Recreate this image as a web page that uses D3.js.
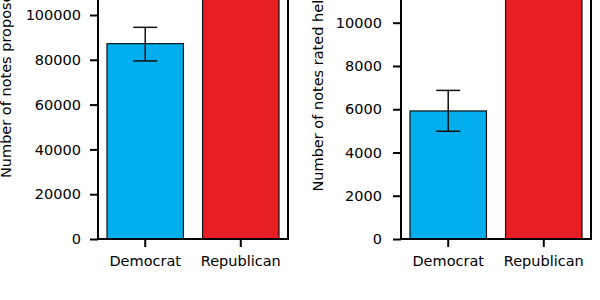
<!DOCTYPE html>
<html>
<head>
<meta charset="utf-8">
<script src="https://cdn.jsdelivr.net/npm/d3@7"></script>
<style>
  body { margin: 0; background: #fff; }
  svg { display: block; font-family: "DejaVu Sans", sans-serif; }
</style>
</head>
<body>
<script>
const width = 600
const height = 300

const parties = ["Democrat", "Republican"]
const colors = ["#03aeef", "#e81e25"]

// left panel: notes proposed
const proposedValues = [87200, 135000]
const proposedErrLow = [79500, null]
const proposedErrHigh = [94500, null]
const proposedTicks = [0, 20000, 40000, 60000, 80000, 100000]

// right panel: notes rated helpful
const helpfulValues = [5920, 13500]
const helpfulErrLow = [4980, null]
const helpfulErrHigh = [6870, null]
const helpfulTicks = [0, 2000, 4000, 6000, 8000, 10000]

const svg = d3.select("body").append("svg").attr("width", width).attr("height", height)

function drawPanel(opts) {
    const {left, right, bottom, topVal, topY, values, errLow, errHigh, ticks, label, labelX, labelY, pad} = opts

    const x = d3.scaleBand()
        .domain(parties)
        .range([left + 9, right - 9])
        .paddingInner(0.2)

    const y = d3.scaleLinear()
        .domain([0, topVal])
        .range([bottom, topY])

    const g = svg.append("g")

    // bars
    g.selectAll("rect")
      .data(values)
      .join("rect")
        .attr("x", (d, i) => x(parties[i]))
        .attr("y", d => y(d))
        .attr("width", x.bandwidth())
        .attr("height", d => y(0) - y(d))
        .attr("fill", (d, i) => colors[i])
        .attr("stroke", "#111")
        .attr("stroke-width", 1.2)

    // error bars
    const eb = g.append("g").attr("stroke", "#111").attr("stroke-width", 1.5)
    values.forEach((v, i) => {
        if (errLow[i] == null) return
        const cx = x(parties[i]) + x.bandwidth() / 2
        eb.append("line").attr("x1", cx).attr("x2", cx).attr("y1", y(errLow[i])).attr("y2", y(errHigh[i]))
        eb.append("line").attr("x1", cx - 12).attr("x2", cx + 12).attr("y1", y(errLow[i])).attr("y2", y(errLow[i]))
        eb.append("line").attr("x1", cx - 12).attr("x2", cx + 12).attr("y1", y(errHigh[i])).attr("y2", y(errHigh[i]))
    })

    // y axis
    g.append("g")
        .attr("transform", `translate(${left},0)`)
        .call(d3.axisLeft(y).tickValues(ticks).tickSize(8).tickPadding(pad).tickFormat(d3.format("d")))
        .call(a => a.select(".domain").remove())
        .call(a => a.selectAll("line").attr("stroke", "#000").attr("stroke-width", 2))
        .call(a => a.selectAll("text").attr("font-size", 14.5).attr("fill", "#000").attr("font-family", "DejaVu Sans"))

    // x axis
    g.append("g")
        .attr("transform", `translate(0,${bottom})`)
        .call(d3.axisBottom(x).tickSize(8).tickPadding(9))
        .call(a => a.select(".domain").remove())
        .call(a => a.selectAll("line").attr("stroke", "#000").attr("stroke-width", 2))
        .call(a => a.selectAll("text").attr("font-size", 14.5).attr("fill", "#000").attr("font-family", "DejaVu Sans"))

    // spines
    g.append("path")
        .attr("d", `M${left},-10V${bottom}H${right}V-10`)
        .attr("fill", "none")
        .attr("stroke", "#000")
        .attr("stroke-width", 2)

    g.append("text")
        .attr("transform", `translate(${labelX},${labelY}) rotate(-90)`)
        .attr("text-anchor", "start")
        .attr("font-size", 14.5)
        .attr("fill", "#000")
        .text(label)
}

drawPanel({
    left: 98, right: 288, bottom: 239, topVal: 100000, topY: 15,
    values: proposedValues, errLow: proposedErrLow, errHigh: proposedErrHigh,
    ticks: proposedTicks, label: "Number of notes proposed", labelX: 11, labelY: 178, pad: 9
})

drawPanel({
    left: 401, right: 591, bottom: 239, topVal: 10000, topY: 22.7,
    values: helpfulValues, errLow: helpfulErrLow, errHigh: helpfulErrHigh,
    ticks: helpfulTicks, label: "Number of notes rated helpful", labelX: 323, labelY: 191.5, pad: 11
})
</script>
</body>
</html>
